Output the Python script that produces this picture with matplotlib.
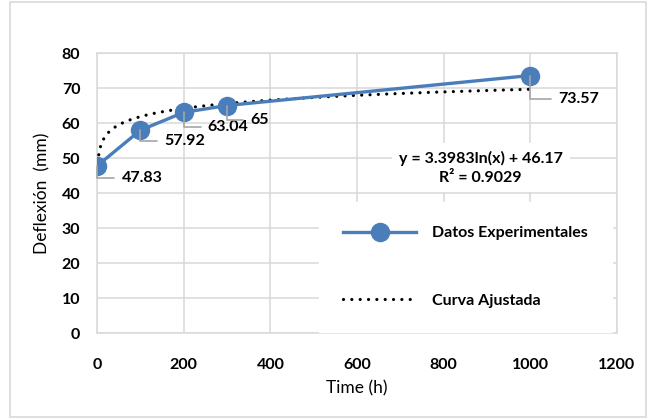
import numpy as np
import matplotlib.pyplot as plt
from matplotlib.patches import Rectangle

plt.rcParams['font.family'] = ['Lato', 'DejaVu Sans']

time_h = [1, 100, 200, 300, 1000]
deflexion = [47.83, 57.92, 63.04, 65, 73.57]
label_txt = ['47.83', '57.92', '63.04', '65', '73.57']
xticks = [0, 200, 400, 600, 800, 1000, 1200]
yticks = [0, 10, 20, 30, 40, 50, 60, 70, 80]

blue = '#4A7EBB'
grid_c = '#D9D9D9'

fig = plt.figure(figsize=(6.48, 4.19), dpi=100)
ax = fig.add_axes([97 / 648, 86 / 419, 520 / 648, 280 / 419])

# chart area border
fig.patches.append(Rectangle((10 / 648, 2 / 419), 636 / 648, 415 / 419,
                             transform=fig.transFigure, fill=False,
                             edgecolor=grid_c, lw=1.2))

ax.set_xlim(0, 1200)
ax.set_ylim(0, 80)
ax.set_xticks(xticks)
ax.set_yticks(yticks)
ax.grid(True, color=grid_c, lw=1.1)
ax.set_axisbelow(True)
for s in ax.spines.values():
    s.set_color(grid_c)
    s.set_linewidth(1.1)
ax.tick_params(length=0, labelsize=11.5, colors='black')
ax.tick_params(axis='x', pad=18)
ax.tick_params(axis='y', pad=12)
for t in ax.get_xticklabels() + ax.get_yticklabels():
    t.set_fontweight('bold')

# log fit, as in the spreadsheet trendline
b, a = np.polyfit(np.log(time_h), deflexion, 1)
xf = np.linspace(time_h[0], time_h[-1], 600)
ax.plot(xf, b * np.log(xf) + a, color='black', lw=2.3,
        linestyle=(0, (0.01, 2.6)), dash_capstyle='round',
        label='Curva Ajustada', zorder=3)

ax.plot(time_h, deflexion, color=blue, lw=2.4, marker='o', ms=13,
        label='Datos Experimentales', zorder=4)

offs = [(24, -12), (24, -11), (24, -15), (23, -14), (28, -23)]
for xv, yv, txt, (dx, dy) in zip(time_h, deflexion, label_txt, offs):
    ax.annotate(txt, (xv, yv), xytext=(dx, dy), textcoords='offset pixels',
                fontsize=11.5, fontweight='bold', va='center', ha='left',
                arrowprops=dict(arrowstyle='-', color='#A6A6A6', lw=1.2,
                                connectionstyle='angle,angleA=0,angleB=90',
                                shrinkA=3, shrinkB=0), zorder=5)

ax.text(0.738, 0.59, 'y = 3.3983ln(x) + 46.17\nR² = 0.9029',
        transform=ax.transAxes, ha='center', va='center', fontsize=11.5,
        fontweight='bold', linespacing=1.5, zorder=6,
        bbox=dict(boxstyle='square,pad=0.45', fc='white', ec='none'))

handles, labels = ax.get_legend_handles_labels()
leg = ax.legend(handles[::-1], labels[::-1], loc='upper left',
                bbox_to_anchor=(0.427, 0.468), borderaxespad=0,
                frameon=True, fancybox=False, framealpha=1,
                edgecolor='white', facecolor='white',
                prop={'weight': 'bold', 'size': 11.5},
                handlelength=4.6, handletextpad=1.0, labelspacing=3.35,
                borderpad=1.5)
leg.set_zorder(6)

ax.set_xlabel('Time (h)', fontsize=12.5, labelpad=6)
ax.set_ylabel('Deflexión  (mm)', fontsize=12.5, labelpad=8)

fig.savefig('out.png', dpi=100)
